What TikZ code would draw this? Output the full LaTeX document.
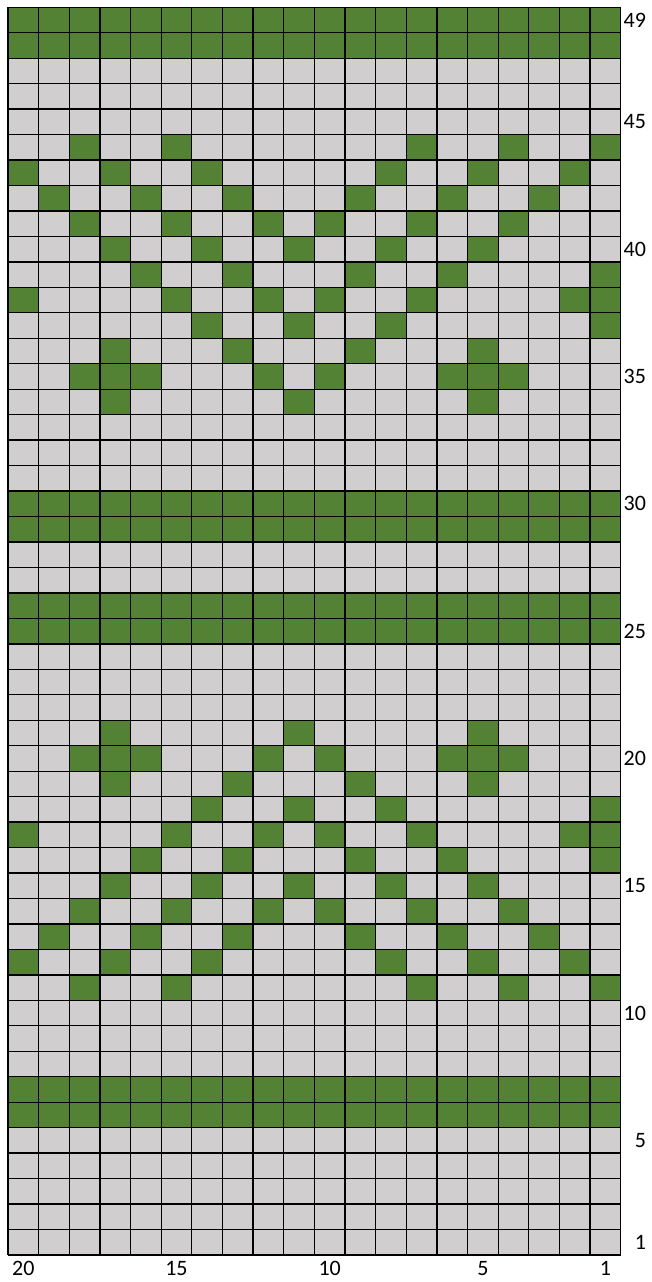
\documentclass[tikz,border=0pt]{standalone}
\usepackage{fontspec}
\setmainfont{Carlito}
\usepackage{tikz}
\usetikzlibrary{positioning}
\definecolor{chartgreen}{RGB}{84,130,53}
\definecolor{chartgrey}{RGB}{208,206,206}

\begin{document}
\begin{tikzpicture}[x=30.63pt, y=25.46pt, font=\fontsize{22}{26}\selectfont,
    rowlabel/.style={anchor=east, inner sep=0pt},
    collabel/.style={anchor=center, inner sep=0pt}]
  \useasboundingbox (-8pt,-27pt) rectangle (643pt,1254.8pt);
  \fill[chartgrey] (0,0) rectangle (20,49);
  % full green rows
  \foreach \r in {6,7,25,26,29,30,48,49}
    \fill[chartgreen] (0,\r-1) rectangle (20,\r);
  % motif rows 34-44, mirrored into rows 11-21
  \foreach \r/\cols in {44/{18,15,7,4,1}, 43/{20,17,14,8,5,2}, 42/{19,16,13,9,6,3},
      41/{18,15,12,10,7,4}, 40/{17,14,11,8,5}, 39/{16,13,9,6,1},
      38/{20,15,12,10,7,2,1}, 37/{14,11,8,1}, 36/{17,13,9,5},
      35/{18,17,16,12,10,6,5,4}, 34/{17,11,5}} {
    \foreach \c in \cols {
      \fill[chartgreen] (20-\c,\r-1) rectangle (21-\c,\r);
      \fill[chartgreen] (20-\c,54-\r) rectangle (21-\c,55-\r);
    }
  }
  % cell borders
  \foreach \i in {0,...,20}
    \draw[line width=1.3pt] (\i,0) -- (\i,49);
  \foreach \j in {0,...,49}
    \draw[line width=1.3pt] (0,\j) -- (20,\j);
  \foreach \r in {1,5,10,15,20,25,30,35,40,45,49}
    \node[rowlabel] (r\r) at (20.83,\r-0.5) {\r};
  \foreach \c in {1,5,10,15,20}
    \node[collabel] (c\c) at (20.5-\c,-0.538) {\c};
\end{tikzpicture}
\end{document}
